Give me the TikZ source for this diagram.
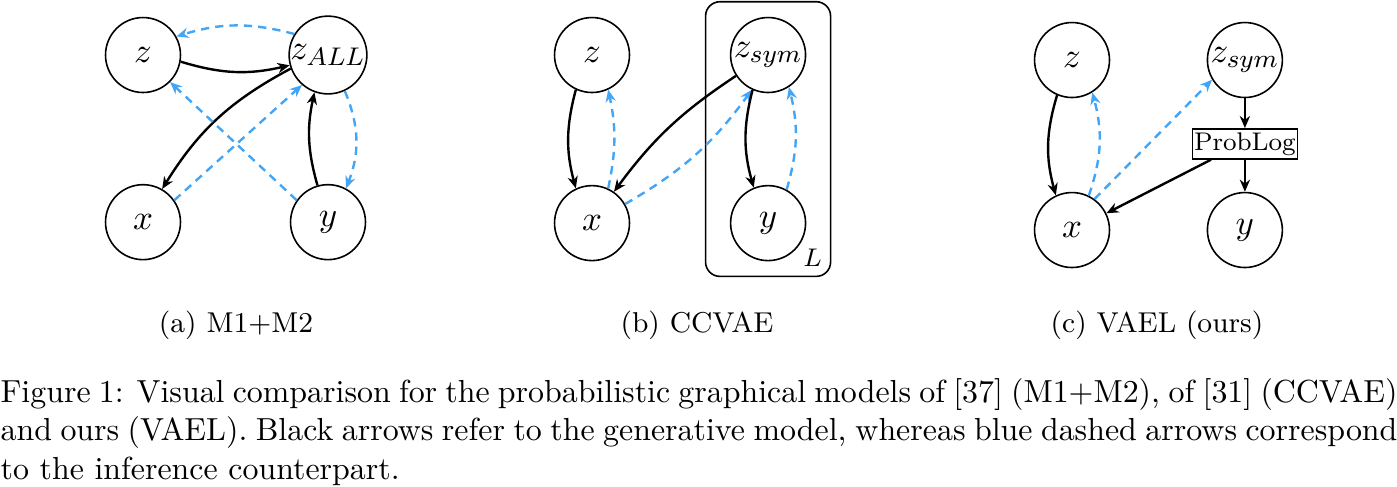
\documentclass[tikz,border=0pt]{standalone}
\usepackage{tikz}
\usetikzlibrary{positioning, arrows.meta, fit}
\definecolor{infblue}{RGB}{66,165,245}

\begin{document}
\begin{tikzpicture}[x=0.3135pt, y=-0.3135pt, on grid,
	latent/.style={circle, draw, line width=0.5pt, minimum size=23.5pt, inner sep=0pt, font=\fontsize{10.95}{13}\selectfont},
	gen/.style={-{Stealth[length=3.8pt, width=3.2pt]}, line width=0.75pt},
	inf/.style={-{Stealth[length=3.8pt, width=3.2pt]}, line width=0.75pt, infblue, dash pattern=on 2.6pt off 1.9pt},
	plate/.style={draw, rounded corners=4.5pt, line width=0.5pt},
	factor/.style={draw, line width=0.5pt, minimum width=32.9pt, minimum height=9.4pt, inner sep=0pt, font=\footnotesize}]

	\useasboundingbox (0,0) rectangle (1397,486);

	% nodes - (a) M1+M2 %
	\node[latent] (za) at (143,55) {$z$};
	\node[latent, right=58pt of za] (zall) {$z_{ALL}$};
	\node[latent, below=52.4pt of za] (xa) {$x$};
	\node[latent, below=52.4pt of zall] (ya) {$y$};

	% edges %
	\draw[gen] (za.-10) to[bend right=15] (zall.195);
	\draw[inf] (zall.148) to[bend right=16] (za.29);
	\draw[gen] (zall.200) to[bend right=15] (xa.60);
	\draw[inf] (xa.35) -- (zall.229);
	\draw[inf] (ya.145) -- (za.-45);
	\draw[gen] (ya.106) to[bend left=14] (zall.250);
	\draw[inf] (zall.-65) to[bend left=22] (ya.62);

	% nodes - (b) CCVAE %
	\node[latent] (zb) at (592,55) {$z$};
	\node[latent, right=55.2pt of zb] (zsymb) {$z_{sym}$};
	\node[latent, below=52.7pt of zb] (xb) {$x$};
	\node[latent, below=52.7pt of zsymb] (yb) {$y$};
	\node[plate, fit=(zsymb)(yb), inner xsep=7.6pt, inner ysep=4.7pt] (plateb) {};
	\node[anchor=base east, inner sep=0pt, font=\footnotesize, xshift=-2.8pt, yshift=3.4pt] (lb) at (plateb.south east) {$L$};

	% edges %
	\draw[gen] (zb.245) to[bend right=15] (xb.115);
	\draw[inf] (xb.65) to[bend right=12] (zb.295);
	\draw[gen] (zsymb.213) to[bend right=10] (xb.55);
	\draw[inf] (xb.30) to[bend right=12] (zsymb.245);
	\draw[gen] (zsymb.246) to[bend right=15] (yb.112);
	\draw[inf] (yb.61) to[bend right=15] (zsymb.303);

	% nodes - (c) VAEL %
	\node[latent] (zc) at (1072,60) {$z$};
	\node[latent, right=54.2pt of zc] (zsymc) {$z_{sym}$};
	\node[latent, below=53.3pt of zc] (xc) {$x$};
	\node[latent, below=53.3pt of zsymc] (yc) {$y$};
	\node[factor, below=26.3pt of zsymc] (problog) {ProbLog};

	% edges %
	\draw[gen] (zc.247) to[bend right=16] (xc.115);
	\draw[inf] (xc.64) to[bend right=17] (zc.302);
	\draw[inf] (xc.54) -- (zsymc.211);
	\draw[gen] (zsymc) -- (problog);
	\draw[gen] (problog) -- (yc);
	\draw[gen] (problog.-155) -- (xc.26);

	% captions %
	\node[anchor=base, font=\small] (capa) at (236,332) {(a) M1+M2};
	\node[anchor=base, font=\small] (capb) at (697,332) {(b) CCVAE};
	\node[anchor=base, font=\small] (capc) at (1157,332) {(c) VAEL (ours)};
	\node[anchor=north west, inner sep=0pt, text width=437.9pt, align=justify] (caption) at (0,378)
		{Figure 1: Visual comparison for the probabilistic graphical models of [37] (M1+M2), of [31] (CCVAE)\linebreak
		and ours (VAEL). Black arrows refer to the generative model, whereas blue dashed arrows correspond\linebreak
		to the inference counterpart.};

\end{tikzpicture}
\end{document}
